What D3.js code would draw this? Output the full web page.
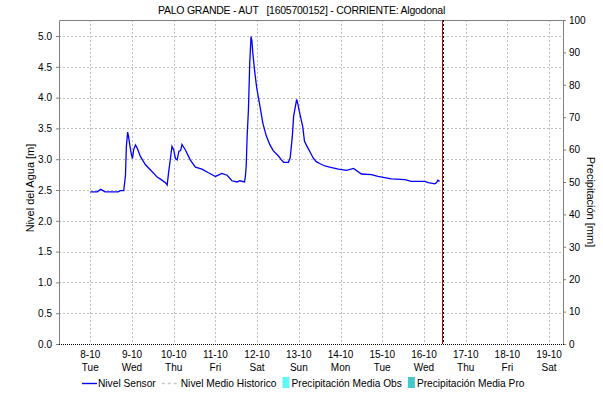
<!DOCTYPE html>
<html>
<head>
<meta charset="utf-8">
<script src="https://cdn.jsdelivr.net/npm/d3@7"></script>
<style>
  body { margin: 0; background: #fff; }
  text { font-family: "Liberation Sans", Arial, sans-serif; fill: #000; }
</style>
</head>
<body>
<div id="chart"></div>
<script>
// datos del sensor (hora local, nivel en m)
const sensorTimes = [
  "10-08 00:00", "10-08 04:00", "10-08 06:00", "10-08 08:30", "10-08 16:00", "10-08 17:15",
  "10-08 19:15", "10-08 20:15", "10-08 20:45", "10-08 21:30", "10-08 22:00", "10-08 22:45",
  "10-08 23:30", "10-09 00:15", "10-09 01:00", "10-09 02:00", "10-09 03:00", "10-09 04:45",
  "10-09 07:45", "10-09 11:30", "10-09 14:30", "10-09 17:15", "10-09 19:15", "10-09 20:15",
  "10-09 21:00", "10-09 22:15", "10-09 23:00", "10-10 00:00", "10-10 01:00", "10-10 02:00",
  "10-10 03:00", "10-10 04:00", "10-10 04:45", "10-10 06:45", "10-10 09:30", "10-10 12:30",
  "10-10 16:15", "10-10 20:00", "10-11 00:00", "10-11 03:45", "10-11 06:45", "10-11 09:30",
  "10-11 12:30", "10-11 14:00", "10-11 16:45", "10-11 17:15", "10-11 17:45", "10-11 18:15",
  "10-11 19:00", "10-11 19:45", "10-11 20:30", "10-11 21:00", "10-11 21:30", "10-11 22:30",
  "10-11 23:45", "10-12 00:45", "10-12 02:00", "10-12 03:15", "10-12 05:15", "10-12 07:15",
  "10-12 09:15", "10-12 12:00", "10-12 14:00", "10-12 15:15", "10-12 18:00", "10-12 19:00",
  "10-12 20:15", "10-12 21:00", "10-12 22:45", "10-12 23:30", "10-13 00:15", "10-13 02:15",
  "10-13 03:15", "10-13 05:15", "10-13 06:45", "10-13 08:15", "10-13 10:00", "10-13 12:00",
  "10-13 15:00", "10-13 17:45", "10-13 22:45", "10-14 03:30", "10-14 07:30", "10-14 12:00",
  "10-14 17:45", "10-14 21:30", "10-15 05:15", "10-15 13:00", "10-15 16:45", "10-16 00:30",
  "10-16 02:30", "10-16 06:15", "10-16 07:15", "10-16 08:00", "10-16 09:00"
];
const sensorLevels = [
  2.47, 2.47, 2.51, 2.47, 2.47, 2.49,
  2.49, 2.74, 3.20, 3.44, 3.37, 3.23,
  3.10, 3.01, 3.16, 3.23, 3.18, 3.05,
  2.91, 2.80, 2.71, 2.66, 2.62, 2.58,
  2.77, 3.04, 3.21, 3.15, 3.01, 2.99,
  3.13, 3.14, 3.24, 3.15, 2.99, 2.87,
  2.84, 2.78, 2.72, 2.77, 2.74, 2.65,
  2.63, 2.65, 2.63, 2.72, 2.91, 3.37,
  3.80, 4.56, 4.99, 4.92, 4.73, 4.45,
  4.16, 4.00, 3.80, 3.59, 3.38, 3.24,
  3.14, 3.06, 2.99, 2.95, 2.95, 3.02,
  3.37, 3.70, 3.97, 3.89, 3.78, 3.53,
  3.29, 3.18, 3.10, 3.02, 2.96, 2.93,
  2.89, 2.87, 2.84, 2.82, 2.85, 2.76,
  2.75, 2.72, 2.68, 2.67, 2.64, 2.64,
  2.62, 2.60, 2.62, 2.66, 2.64
];
// sin datos en el periodo
const historicTimes = [];
const historicLevels = [];
const precipObs = [];
const precipPro = [];

const dayTicks = ["10-08", "10-09", "10-10", "10-11", "10-12", "10-13", "10-14", "10-15", "10-16", "10-17", "10-18", "10-19"];
const dayNames = ["Tue", "Wed", "Thu", "Fri", "Sat", "Sun", "Mon", "Tue", "Wed", "Thu", "Fri", "Sat"];
const levelTicks = [0, 0.5, 1.0, 1.5, 2.0, 2.5, 3.0, 3.5, 4.0, 4.5, 5.0];
const precipTicks = [0, 10, 20, 30, 40, 50, 60, 70, 80, 90, 100];
const timeStart = "10-07 06:00";
const timeEnd = "10-19 08:00";
const nowTime = "10-16 10:15";
const levelMax = 5.26;

const legendItems = [
  { label: "Nivel Sensor", kind: "line", color: "#0000ff" },
  { label: "Nivel Medio Historico", kind: "dash", color: "#c8c8c8" },
  { label: "Precipitación Media Obs", kind: "box", color: "#5ff7f7" },
  { label: "Precipitación Media Pro", kind: "box", color: "#46c8c8" }
];

const width = 603, height = 403;
const margin = { top: 20, right: 40, bottom: 59, left: 59 };
const plotW = 563 - margin.left;
const plotH = 344 - margin.top;

const parse = d3.timeParse("%Y-%m-%d %H:%M");
const t = s => parse("2019-" + s);

const svg = d3.select("#chart").append("svg")
  .attr("width", width)
  .attr("height", height);

const g = svg.append("g")
  .attr("transform", `translate(${margin.left},${margin.top})`);

const x = d3.scaleTime()
  .domain([t(timeStart), t(timeEnd)])
  .range([0, plotW]);

const y = d3.scaleLinear()
  .domain([0, levelMax])
  .range([plotH, 0]);

const y2 = d3.scaleLinear()
  .domain([0, 100])
  .range([plotH, 0]);

// rejilla
g.append("g").selectAll("line")
  .data(dayTicks)
  .join("line")
  .attr("x1", d => Math.round(x(t(d + " 00:00"))) + 0.5)
  .attr("x2", d => Math.round(x(t(d + " 00:00"))) + 0.5)
  .attr("y1", 0)
  .attr("y2", plotH)
  .attr("stroke", "#c0c0c0")
  .attr("stroke-dasharray", "2,2");

g.append("g").selectAll("line")
  .data(levelTicks.slice(1))
  .join("line")
  .attr("x1", 0)
  .attr("x2", plotW)
  .attr("y1", d => Math.round(y(d)) + 0.5)
  .attr("y2", d => Math.round(y(d)) + 0.5)
  .attr("stroke", "#c0c0c0")
  .attr("stroke-dasharray", "2,2");

// marco
g.append("path")
  .attr("d", `M0.5,${plotH}V0.5H${plotW + 0.5}V${plotH}`)
  .attr("fill", "none")
  .attr("stroke", "#808080");

// eje izquierdo
const yAxis = g.append("g")
  .call(d3.axisLeft(y).tickValues(levelTicks).tickFormat(d3.format(".1f")).tickSize(3).tickSizeOuter(0));
yAxis.select(".domain").remove();
yAxis.selectAll("line").attr("stroke", "#808080");
yAxis.selectAll("text").attr("font-size", 10).attr("dx", -1);

// eje derecho
const y2Axis = g.append("g")
  .attr("transform", `translate(${plotW},0)`)
  .call(d3.axisRight(y2).tickValues(precipTicks).tickSize(3).tickSizeOuter(0));
y2Axis.select(".domain").remove();
y2Axis.selectAll("line").attr("stroke", "#808080");
y2Axis.selectAll("text").attr("font-size", 10);

// etiquetas de fechas
const xl = g.append("g").selectAll("g")
  .data(dayTicks)
  .join("g")
  .attr("transform", d => `translate(${x(t(d + " 00:00"))},${plotH})`);
xl.append("text")
  .attr("y", 14)
  .attr("text-anchor", "middle")
  .attr("font-size", 10)
  .text(d => (+d.slice(3)) + "-" + d.slice(0, 2));
xl.append("text")
  .attr("y", 27)
  .attr("text-anchor", "middle")
  .attr("font-size", 10)
  .text((d, i) => dayNames[i]);

// barras de precipitacion (vacias)
const barW = 6;
g.append("g").selectAll("rect")
  .data(precipObs)
  .join("rect")
  .attr("x", d => x(t(d.time)) - barW / 2)
  .attr("y", d => y2(d.value))
  .attr("width", barW)
  .attr("height", d => plotH - y2(d.value))
  .attr("fill", legendItems[2].color);

// nivel medio historico
const histData = historicTimes.map((s, i) => ({ time: t(s), value: historicLevels[i] }));
g.append("path")
  .datum(histData)
  .attr("fill", "none")
  .attr("stroke", legendItems[1].color)
  .attr("stroke-dasharray", "3,3")
  .attr("d", d3.line().x(d => x(d.time)).y(d => y(d.value)));

// linea base
g.append("line")
  .attr("x1", 0).attr("x2", plotW + 1)
  .attr("y1", plotH + 0.5).attr("y2", plotH + 0.5)
  .attr("stroke", "#000")
  .attr("stroke-dasharray", "1,1");

// nivel sensor
const sensorData = sensorTimes.map((s, i) => ({ time: t(s), value: sensorLevels[i] }));
g.append("path")
  .datum(sensorData)
  .attr("fill", "none")
  .attr("stroke", "#0000ff")
  .attr("stroke-width", 1.3)
  .attr("d", d3.line().x(d => x(d.time)).y(d => y(d.value)));

// linea de hora actual
const nx = Math.round(x(t(nowTime))) + 0.5;
g.append("line")
  .attr("x1", nx).attr("x2", nx)
  .attr("y1", 0).attr("y2", plotH)
  .attr("stroke", "#b00000");
g.append("line")
  .attr("x1", nx + 1).attr("x2", nx + 1)
  .attr("y1", 0).attr("y2", plotH)
  .attr("stroke", "#000")
  .attr("stroke-dasharray", "2,2");

// titulos
svg.append("text")
  .attr("x", width / 2)
  .attr("y", 14)
  .attr("text-anchor", "middle")
  .attr("font-size", 10.5)
  .attr("letter-spacing", -0.25)
  .style("white-space", "pre")
  .text("PALO GRANDE - AUT   [1605700152] - CORRIENTE: Algodonal");

svg.append("text")
  .attr("transform", `translate(34,188) rotate(-90)`)
  .attr("text-anchor", "middle")
  .attr("font-size", 11)
  .text("Nivel del Agua [m]");

svg.append("text")
  .attr("transform", `translate(587,202) rotate(90)`)
  .attr("text-anchor", "middle")
  .attr("font-size", 11)
  .text("Precipitación [mm]");

// leyenda
const legend = svg.append("g").attr("transform", "translate(82,387)");
let lx = 0;
legendItems.forEach(item => {
  const it = legend.append("g").attr("transform", `translate(${lx},0)`);
  let off;
  if (item.kind === "box") {
    it.append("rect").attr("x", 0).attr("y", -10).attr("width", 7).attr("height", 11).attr("fill", item.color);
    off = 9;
  } else {
    it.append("line").attr("x1", 0).attr("x2", 15).attr("y1", -3.5).attr("y2", -3.5)
      .attr("stroke", item.color).attr("stroke-width", item.kind === "line" ? 1.4 : 1.5)
      .attr("stroke-dasharray", item.kind === "dash" ? "3,3" : null);
    off = item.kind === "line" ? 16 : 19;
  }
  const tx = it.append("text").attr("x", off).attr("font-size", 10.2).text(item.label);
  lx += off + tx.node().getComputedTextLength() + 6;
});
</script>
</body>
</html>
